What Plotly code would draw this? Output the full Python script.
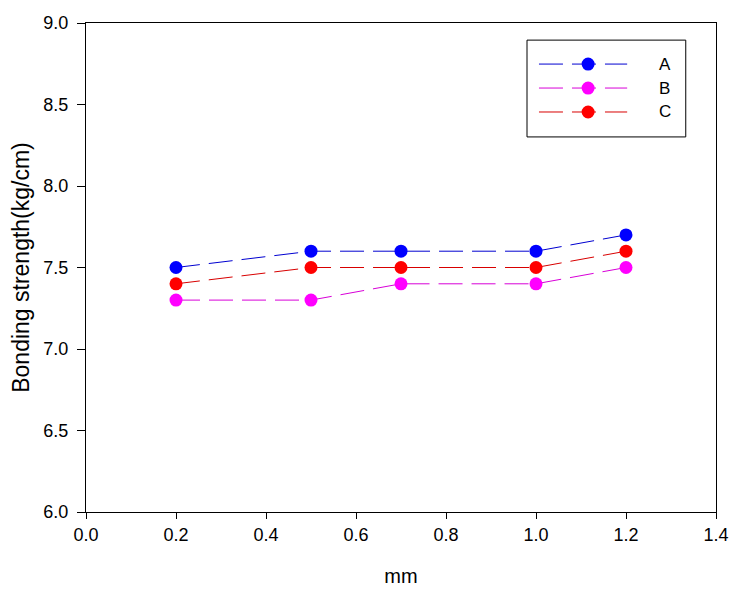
import plotly.graph_objects as go

x_mm = [0.2, 0.5, 0.7, 1.0, 1.2]
series_names = ["A", "B", "C"]
a_vals = [7.5, 7.6, 7.6, 7.6, 7.7]
b_vals = [7.3, 7.3, 7.4, 7.4, 7.5]
c_vals = [7.4, 7.5, 7.5, 7.5, 7.6]

marker_colors = ["#0000FF", "#FF00FF", "#FF0000"]
line_colors = ["#0000D0", "#D800D8", "#D80000"]
dash_style = "24px,9px"

fig = go.Figure()
for name, vals, mc, lc in zip(series_names, [a_vals, b_vals, c_vals], marker_colors, line_colors):
    fig.add_trace(go.Scatter(
        x=x_mm, y=vals, name=name, mode="lines+markers",
        line=dict(color=lc, width=1, dash=dash_style),
        marker=dict(color=mc, size=13, line=dict(width=0)),
        showlegend=False,
    ))

# Legend drawn as a boxed key (paper coordinates)
shapes = [dict(type="rect", xref="paper", yref="paper", x0=0.700, x1=0.952, y0=0.767, y1=0.965,
               line=dict(color="black", width=1), fillcolor="white", layer="above")]
annotations = []
item_y = [0.916, 0.867, 0.818]
for name, mc, lc, yy in zip(series_names, marker_colors, line_colors, item_y):
    shapes.append(dict(type="line", xref="paper", yref="paper", x0=0.719, x1=0.859, y0=yy, y1=yy,
                       line=dict(color=lc, width=1, dash=dash_style), layer="above"))
    shapes.append(dict(type="circle", xref="paper", yref="paper", xsizemode="pixel", ysizemode="pixel",
                       xanchor=0.797, yanchor=yy, x0=-6.5, x1=6.5, y0=-6.5, y1=6.5,
                       fillcolor=mc, line=dict(width=0), layer="above"))
    annotations.append(dict(text=name, xref="paper", yref="paper", x=0.919, y=yy,
                            xanchor="center", yanchor="middle", showarrow=False,
                            font=dict(size=17, color="black")))

font = "Liberation Sans, Arial, sans-serif"
fig.update_layout(
    width=741, height=596,
    margin=dict(l=78, r=33, t=15, b=92),
    paper_bgcolor="white", plot_bgcolor="white",
    font=dict(family=font, size=18, color="black"),
    showlegend=False,
    shapes=shapes, annotations=annotations,
    xaxis=dict(
        range=[0, 1.4], tickvals=[0, 0.2, 0.4, 0.6, 0.8, 1.0, 1.2, 1.4],
        tickformat=".1f", showgrid=False, zeroline=False, automargin=False,
        showline=True, linecolor="black", linewidth=1, mirror=True,
        ticks="outside", ticklen=6, tickcolor="black",
        title=dict(text="mm", font=dict(size=20), standoff=25),
    ),
    yaxis=dict(
        range=[6, 9], tickvals=[6.0, 6.5, 7.0, 7.5, 8.0, 8.5, 9.0],
        tickformat=".1f", showgrid=False, zeroline=False, automargin=False,
        showline=True, linecolor="black", linewidth=1, mirror=True,
        ticks="outside", ticklen=8, tickcolor="black", ticklabelstandoff=5,
        title=dict(text="Bonding strength(kg/cm)", font=dict(size=23), standoff=11),
    ),
)
fig.write_html("out.html")
